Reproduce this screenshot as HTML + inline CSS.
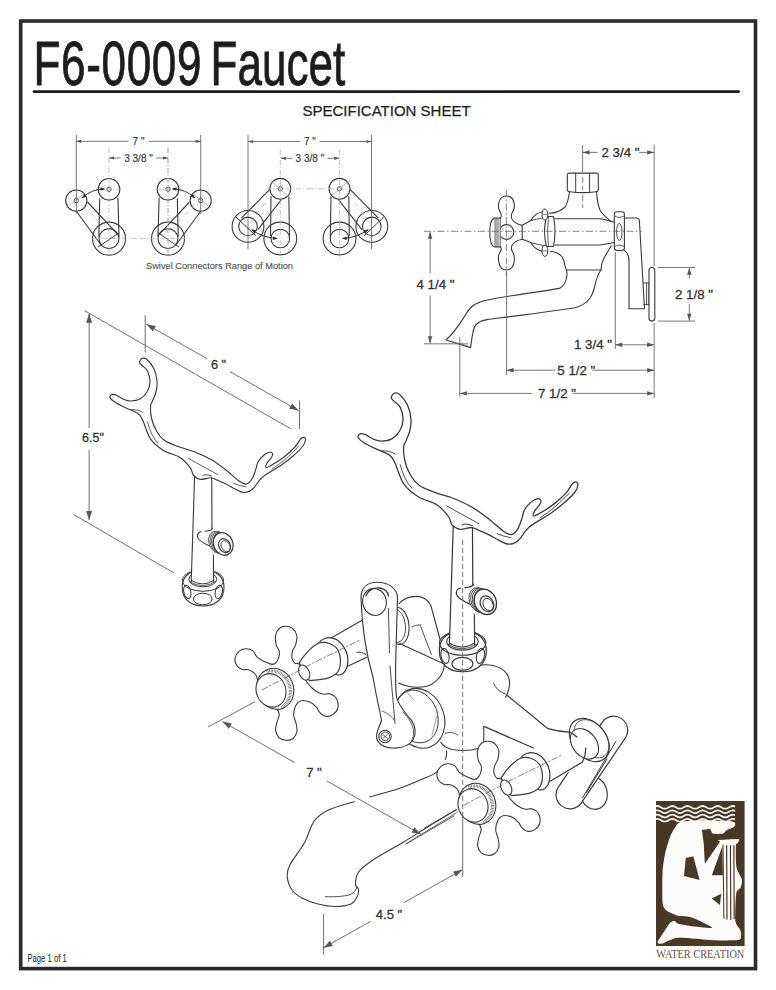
<!DOCTYPE html>
<html><head><meta charset="utf-8">
<style>
html,body{margin:0;padding:0;background:#fff;width:776px;height:990px;overflow:hidden}
svg{display:block;position:absolute;left:0;top:0}
text{font-family:"Liberation Sans",sans-serif}
</style></head>
<body>
<svg width="776" height="990" viewBox="0 0 776 990">

<rect x="20.7" y="21" width="734.8" height="947.6" fill="none" stroke="#2b2b2b" stroke-width="3.6"/>
<g transform="translate(33.5 0) scale(0.7 1)"><text x="0" y="84.6" font-size="63" fill="#1c1c1c" stroke="#1c1c1c" stroke-width="0.8" letter-spacing="0.9">F6-0009</text><text x="253" y="84.6" font-size="63" fill="#1c1c1c" stroke="#1c1c1c" stroke-width="0.8">Faucet</text></g>
<line x1="34" y1="91.6" x2="738.5" y2="91.6" stroke="#1c1c1c" stroke-width="2.8" stroke-linecap="round"/>
<text x="302.5" y="115.8" font-size="15" fill="#1e1e1e" stroke="#1e1e1e" stroke-width="0.25">SPECIFICATION SHEET</text>
<text x="27.5" y="962" font-size="10.5" fill="#222" transform="translate(27.5 0) scale(0.73 1) translate(-27.5 0)">Page 1 of 1</text>

<circle cx="109.0" cy="189.3" r="10.8" fill="none" stroke="#3a3a3a" stroke-width="1.1"/>
<circle cx="109.0" cy="189.3" r="2.2" fill="none" stroke="#3a3a3a" stroke-width="0.9"/>
<circle cx="76.3" cy="200.6" r="10.6" fill="none" stroke="#3a3a3a" stroke-width="1.1"/>
<circle cx="76.3" cy="200.6" r="2.2" fill="none" stroke="#3a3a3a" stroke-width="0.9"/>
<circle cx="109.0" cy="238.6" r="16.5" fill="none" stroke="#3a3a3a" stroke-width="1.1"/>
<circle cx="109.0" cy="238.6" r="10.0" fill="none" stroke="#3a3a3a" stroke-width="1.1"/>
<line x1="99.7" y1="198.5" x2="98.8" y2="236.5" stroke="#3a3a3a" stroke-width="1.1"/>
<line x1="117.9" y1="197.5" x2="119.0" y2="236.5" stroke="#3a3a3a" stroke-width="1.1"/>
<line x1="76.5" y1="211.5" x2="101.5" y2="245.5" stroke="#3a3a3a" stroke-width="1.1"/>
<line x1="87.5" y1="202.0" x2="117.7" y2="234.4" stroke="#3a3a3a" stroke-width="1.1"/>
<line x1="98.0" y1="247.0" x2="118.8" y2="233.0" stroke="#3a3a3a" stroke-width="1.0"/>
<line x1="109.0" y1="148.0" x2="109.0" y2="258.0" stroke="#aaa" stroke-width="0.7" stroke-dasharray="5 2 1 2"/>
<line x1="92.0" y1="238.6" x2="138.5" y2="238.6" stroke="#aaa" stroke-width="0.7" stroke-dasharray="5 2 1 2"/>
<line x1="96.0" y1="189.3" x2="123.0" y2="189.3" stroke="#aaa" stroke-width="0.7" stroke-dasharray="5 2 1 2"/>
<line x1="68.0" y1="190.0" x2="99.0" y2="222.0" stroke="#aaa" stroke-width="0.7" stroke-dasharray="5 2 1 2"/>
<line x1="66.0" y1="208.0" x2="84.0" y2="194.0" stroke="#999" stroke-width="0.7"/>
<path d="M82.5 197.5 Q92 189 104 189" fill="none" stroke="#333" stroke-width="1"/>
<path d="M105.5 189.0L100.5 190.8L100.5 187.2Z" fill="#333"/>
<path d="M81.5 198.5L84.3 194.0L86.5 196.8Z" fill="#333"/>
<g transform="translate(277.0 0) scale(-1 1)"><circle cx="109.0" cy="189.3" r="10.8" fill="none" stroke="#3a3a3a" stroke-width="1.1"/>
<circle cx="109.0" cy="189.3" r="2.2" fill="none" stroke="#3a3a3a" stroke-width="0.9"/>
<circle cx="76.3" cy="200.6" r="10.6" fill="none" stroke="#3a3a3a" stroke-width="1.1"/>
<circle cx="76.3" cy="200.6" r="2.2" fill="none" stroke="#3a3a3a" stroke-width="0.9"/>
<circle cx="109.0" cy="238.6" r="16.5" fill="none" stroke="#3a3a3a" stroke-width="1.1"/>
<circle cx="109.0" cy="238.6" r="10.0" fill="none" stroke="#3a3a3a" stroke-width="1.1"/>
<line x1="99.7" y1="198.5" x2="98.8" y2="236.5" stroke="#3a3a3a" stroke-width="1.1"/>
<line x1="117.9" y1="197.5" x2="119.0" y2="236.5" stroke="#3a3a3a" stroke-width="1.1"/>
<line x1="76.5" y1="211.5" x2="101.5" y2="245.5" stroke="#3a3a3a" stroke-width="1.1"/>
<line x1="87.5" y1="202.0" x2="117.7" y2="234.4" stroke="#3a3a3a" stroke-width="1.1"/>
<line x1="98.0" y1="247.0" x2="118.8" y2="233.0" stroke="#3a3a3a" stroke-width="1.0"/>
<line x1="109.0" y1="148.0" x2="109.0" y2="258.0" stroke="#aaa" stroke-width="0.7" stroke-dasharray="5 2 1 2"/>
<line x1="92.0" y1="238.6" x2="138.5" y2="238.6" stroke="#aaa" stroke-width="0.7" stroke-dasharray="5 2 1 2"/>
<line x1="96.0" y1="189.3" x2="123.0" y2="189.3" stroke="#aaa" stroke-width="0.7" stroke-dasharray="5 2 1 2"/>
<line x1="68.0" y1="190.0" x2="99.0" y2="222.0" stroke="#aaa" stroke-width="0.7" stroke-dasharray="5 2 1 2"/>
<line x1="66.0" y1="208.0" x2="84.0" y2="194.0" stroke="#999" stroke-width="0.7"/>
<path d="M82.5 197.5 Q92 189 104 189" fill="none" stroke="#333" stroke-width="1"/>
<path d="M105.5 189.0L100.5 190.8L100.5 187.2Z" fill="#333"/>
<path d="M81.5 198.5L84.3 194.0L86.5 196.8Z" fill="#333"/></g>
<circle cx="280.3" cy="188.8" r="10.4" fill="none" stroke="#3a3a3a" stroke-width="1.1"/>
<circle cx="280.3" cy="188.8" r="2.2" fill="none" stroke="#3a3a3a" stroke-width="0.9"/>
<circle cx="248.0" cy="226.4" r="15.9" fill="none" stroke="#3a3a3a" stroke-width="1.1"/>
<circle cx="248.0" cy="226.4" r="9.3" fill="none" stroke="#3a3a3a" stroke-width="1.1"/>
<circle cx="280.3" cy="238.5" r="16.4" fill="none" stroke="#3a3a3a" stroke-width="1.1"/>
<circle cx="280.3" cy="238.5" r="9.3" fill="none" stroke="#3a3a3a" stroke-width="1.1"/>
<line x1="271.0" y1="196.3" x2="270.5" y2="236.0" stroke="#3a3a3a" stroke-width="1.1"/>
<line x1="288.8" y1="196.3" x2="289.5" y2="236.0" stroke="#3a3a3a" stroke-width="1.1"/>
<line x1="270.0" y1="189.2" x2="241.4" y2="218.2" stroke="#3a3a3a" stroke-width="1.1"/>
<line x1="281.4" y1="199.6" x2="257.9" y2="229.7" stroke="#3a3a3a" stroke-width="1.1"/>
<line x1="236.0" y1="217.0" x2="256.0" y2="236.0" stroke="#3a3a3a" stroke-width="1.0"/>
<line x1="280.3" y1="150.0" x2="280.3" y2="258.0" stroke="#aaa" stroke-width="0.7" stroke-dasharray="5 2 1 2"/>
<line x1="266.0" y1="188.8" x2="310.0" y2="188.8" stroke="#aaa" stroke-width="0.7" stroke-dasharray="5 2 1 2"/>
<line x1="265.0" y1="203.0" x2="248.0" y2="226.0" stroke="#aaa" stroke-width="0.7" stroke-dasharray="5 2 1 2"/>
<line x1="270.0" y1="180.0" x2="291.0" y2="199.0" stroke="#999" stroke-width="0.7"/>
<path d="M252 230 Q262 237 276 238.5" fill="none" stroke="#333" stroke-width="1"/>
<path d="M278.0 238.6L272.9 240.1L273.1 236.6Z" fill="#333"/>
<path d="M251.0 229.3L256.2 230.3L254.4 233.4Z" fill="#333"/>
<g transform="translate(619.8 0) scale(-1 1)"><circle cx="280.3" cy="188.8" r="10.4" fill="none" stroke="#3a3a3a" stroke-width="1.1"/>
<circle cx="280.3" cy="188.8" r="2.2" fill="none" stroke="#3a3a3a" stroke-width="0.9"/>
<circle cx="248.0" cy="226.4" r="15.9" fill="none" stroke="#3a3a3a" stroke-width="1.1"/>
<circle cx="248.0" cy="226.4" r="9.3" fill="none" stroke="#3a3a3a" stroke-width="1.1"/>
<circle cx="280.3" cy="238.5" r="16.4" fill="none" stroke="#3a3a3a" stroke-width="1.1"/>
<circle cx="280.3" cy="238.5" r="9.3" fill="none" stroke="#3a3a3a" stroke-width="1.1"/>
<line x1="271.0" y1="196.3" x2="270.5" y2="236.0" stroke="#3a3a3a" stroke-width="1.1"/>
<line x1="288.8" y1="196.3" x2="289.5" y2="236.0" stroke="#3a3a3a" stroke-width="1.1"/>
<line x1="270.0" y1="189.2" x2="241.4" y2="218.2" stroke="#3a3a3a" stroke-width="1.1"/>
<line x1="281.4" y1="199.6" x2="257.9" y2="229.7" stroke="#3a3a3a" stroke-width="1.1"/>
<line x1="236.0" y1="217.0" x2="256.0" y2="236.0" stroke="#3a3a3a" stroke-width="1.0"/>
<line x1="280.3" y1="150.0" x2="280.3" y2="258.0" stroke="#aaa" stroke-width="0.7" stroke-dasharray="5 2 1 2"/>
<line x1="266.0" y1="188.8" x2="310.0" y2="188.8" stroke="#aaa" stroke-width="0.7" stroke-dasharray="5 2 1 2"/>
<line x1="265.0" y1="203.0" x2="248.0" y2="226.0" stroke="#aaa" stroke-width="0.7" stroke-dasharray="5 2 1 2"/>
<line x1="270.0" y1="180.0" x2="291.0" y2="199.0" stroke="#999" stroke-width="0.7"/>
<path d="M252 230 Q262 237 276 238.5" fill="none" stroke="#333" stroke-width="1"/>
<path d="M278.0 238.6L272.9 240.1L273.1 236.6Z" fill="#333"/>
<path d="M251.0 229.3L256.2 230.3L254.4 233.4Z" fill="#333"/></g>
<line x1="76.3" y1="135.0" x2="76.3" y2="214.0" stroke="#555" stroke-width="0.8"/>
<line x1="200.7" y1="135.0" x2="200.7" y2="214.0" stroke="#555" stroke-width="0.8"/>
<line x1="76.3" y1="141.3" x2="128.5" y2="141.3" stroke="#555" stroke-width="0.8"/>
<line x1="148.5" y1="141.3" x2="200.7" y2="141.3" stroke="#555" stroke-width="0.8"/>
<path d="M76.3 141.3L81.3 139.7L81.3 142.9Z" fill="#555"/>
<path d="M200.7 141.3L195.7 142.9L195.7 139.7Z" fill="#555"/>
<text x="138.5" y="145.0" font-size="10" fill="#333" stroke="#333" stroke-width="0.15" text-anchor="middle">7 "</text>
<line x1="109.0" y1="158.0" x2="120.8" y2="158.0" stroke="#555" stroke-width="0.8"/>
<line x1="156.2" y1="158.0" x2="168.0" y2="158.0" stroke="#555" stroke-width="0.8"/>
<path d="M109.0 158.0L114.0 156.4L114.0 159.6Z" fill="#555"/>
<path d="M168.0 158.0L163.0 159.6L163.0 156.4Z" fill="#555"/>
<text x="138.5" y="161.8" font-size="10" fill="#333" stroke="#333" stroke-width="0.15" text-anchor="middle">3 3/8 "</text>
<line x1="168.0" y1="148.0" x2="168.0" y2="258.0" stroke="#aaa" stroke-width="0.7" stroke-dasharray="5 2 1 2"/>
<line x1="248.0" y1="135.0" x2="248.0" y2="249.0" stroke="#555" stroke-width="0.8"/>
<line x1="371.5" y1="135.0" x2="371.5" y2="249.0" stroke="#555" stroke-width="0.8"/>
<line x1="248.0" y1="141.5" x2="299.9" y2="141.5" stroke="#555" stroke-width="0.8"/>
<line x1="319.6" y1="141.5" x2="371.5" y2="141.5" stroke="#555" stroke-width="0.8"/>
<path d="M248.0 141.5L253.0 139.9L253.0 143.1Z" fill="#555"/>
<path d="M371.5 141.5L366.5 143.1L366.5 139.9Z" fill="#555"/>
<text x="309.9" y="145.2" font-size="10" fill="#333" stroke="#333" stroke-width="0.15" text-anchor="middle">7 "</text>
<line x1="280.8" y1="158.3" x2="292.5" y2="158.3" stroke="#555" stroke-width="0.8"/>
<line x1="327.6" y1="158.3" x2="339.3" y2="158.3" stroke="#555" stroke-width="0.8"/>
<path d="M280.8 158.3L285.8 156.7L285.8 159.9Z" fill="#555"/>
<path d="M339.3 158.3L334.3 159.9L334.3 156.7Z" fill="#555"/>
<text x="309.9" y="162.1" font-size="10" fill="#333" stroke="#333" stroke-width="0.15" text-anchor="middle">3 3/8 "</text>
<text x="219.5" y="268.5" font-size="9.2" fill="#555" stroke="#555" stroke-width="0.15" text-anchor="middle" textLength="147" lengthAdjust="spacingAndGlyphs">Swivel Connectors Range of Motion</text>
<path d="M566.4 270 C568 276 566 285 559.5 288.4 C540 292 505 296 487.3 300 C476 302.5 470 306 466 314 C461 322 455 332 446 340 L470.6 347.6 C471.5 342 472 334 474.4 327 C477 322 481 320.6 487 319.6 C515 316 555 311 575 307.7 C590 304 593 293.5 594.8 286 C596 280 597 275 601 270" fill="none" stroke="#3a3a3a" stroke-width="1.1" stroke-linejoin="round" stroke-linecap="round"/>
<path d="M451 341.5 L468 346" fill="none" stroke="#777" stroke-width="0.8" stroke-linejoin="round" stroke-linecap="round"/>
<path d="M550.2 251.2 C558 252 562 255 563.5 260 C565 264 565 268 566.4 270 L601 270 C601 265 602 262 603.5 259 C606 254 609 250 611.2 245.8" fill="none" stroke="#3a3a3a" stroke-width="1.1" stroke-linejoin="round" stroke-linecap="round"/>
<path d="M569 173.1 L596.3 173.1 Q598.3 173.1 598.3 175.1 L598.3 189.5 Q598.3 191.7 596 191.7 Q583 193.5 570 191.7 Q567.3 191.7 567.3 189.5 L567.3 175.1 Q567.3 173.1 569 173.1 Z" fill="none" stroke="#3a3a3a" stroke-width="1.1" stroke-linejoin="round" stroke-linecap="round"/>
<path d="M575.7 173.5 L575.7 192 M589.6 173.5 L589.6 192" fill="none" stroke="#3a3a3a" stroke-width="1" stroke-linejoin="round" stroke-linecap="round"/>
<path d="M569.5 192 C568.5 198 568 203 565 207 C561 211 556 213 549.4 213.3" fill="none" stroke="#3a3a3a" stroke-width="1.1" stroke-linejoin="round" stroke-linecap="round"/>
<path d="M596.5 192 C597 198 597.5 205 600.4 211 C603 215 607 218 611.2 221.5" fill="none" stroke="#3a3a3a" stroke-width="1.1" stroke-linejoin="round" stroke-linecap="round"/>
<path d="M554.8 218.8 L600 218.8 C605 219.5 609 221 614.3 222" fill="none" stroke="#3a3a3a" stroke-width="1.1" stroke-linejoin="round" stroke-linecap="round"/>
<path d="M554.8 245 L600 245 C605 244.5 609 243.5 614.3 242.5" fill="none" stroke="#3a3a3a" stroke-width="1.1" stroke-linejoin="round" stroke-linecap="round"/>
<path d="M530.8 220.5 C534 215 539 212 544 211.5 M530.8 242.8 C534 248 539 251 544 252" fill="none" stroke="#3a3a3a" stroke-width="1.1" stroke-linejoin="round" stroke-linecap="round"/>
<path d="M530.8 220.5 L544.7 217.5 M530.8 242.8 L544.7 245.8" fill="none" stroke="#3a3a3a" stroke-width="0.9" stroke-linejoin="round" stroke-linecap="round"/>
<path d="M546.5 216.5 L553.5 216.5 Q556.5 231.5 553.5 246.5 L546.5 246.5 Q542.5 231.5 546.5 216.5 Z" fill="#fff" stroke="#3a3a3a" stroke-width="1.1" stroke-linejoin="round" stroke-linecap="round"/>
<path d="M548.5 217 Q546.5 231.5 548.5 246" fill="none" stroke="#3a3a3a" stroke-width="0.8" stroke-linejoin="round" stroke-linecap="round"/>
<ellipse cx="544.9" cy="214.6" rx="2.9" ry="5.6" fill="#fff" stroke="#3a3a3a" stroke-width="1"/>
<ellipse cx="544.9" cy="250.8" rx="2.9" ry="5.6" fill="#fff" stroke="#3a3a3a" stroke-width="1"/>
<path d="M543 214.6 L547 214.6 M543 250.8 L547 250.8" fill="none" stroke="#3a3a3a" stroke-width="0.7" stroke-linejoin="round" stroke-linecap="round"/>
<path d="M617 211.8 L622 211.8 Q624.4 211.8 624.4 214.5 L624.4 247.8 Q624.4 250.5 622 250.5 L617 250.5 Q614.3 250.5 614.3 247.8 L614.3 214.5 Q614.3 211.8 617 211.8 Z" fill="#fff" stroke="#3a3a3a" stroke-width="1.1" stroke-linejoin="round" stroke-linecap="round"/>
<ellipse cx="619.3" cy="231.9" rx="2.7" ry="8.5" fill="none" stroke="#3a3a3a" stroke-width="0.9"/>
<path d="M614.5 216 Q619 219 624.2 216 M614.5 246.5 Q619 243.5 624.2 246.5" fill="none" stroke="#3a3a3a" stroke-width="0.8" stroke-linejoin="round" stroke-linecap="round"/>
<path d="M624.4 218 L637.2 218 Q639.4 218.5 639.4 221 L644.5 308.8 L629 308.8 L629 262 C629 256 627 252 624.4 250.5" fill="none" stroke="#3a3a3a" stroke-width="1.1" stroke-linejoin="round" stroke-linecap="round"/>
<path d="M643.5 283 L649 283 L649 304.6 L643.8 304.6 M646.6 283 L646.6 304.6" fill="none" stroke="#3a3a3a" stroke-width="0.9" stroke-linejoin="round" stroke-linecap="round"/>
<path d="M649 270.5 Q649 267.5 651.9 267.5 Q654.8 267.5 654.8 270.5 L654.8 318.1 Q654.8 321.1 651.9 321.1 Q649 321.1 649 318.1 Z" fill="#fff" stroke="#3a3a3a" stroke-width="1.1" stroke-linejoin="round" stroke-linecap="round"/>
<path d="M500.6 212.8 C497 208 497.5 196 506.4 196 C515.3 196 515.8 208 512.1 212.8 C511 215 511.3 217.5 512.2 219.5 C514.5 223 518 224.5 522.2 225.3 L522.2 239.2 C518 240 514.5 241.5 512.2 245 C511.3 247 511 249 512.1 251.2 C515.8 256 515.3 270 506.4 270 C497.5 270 497 256 500.6 251.2 C501.5 249 501.3 247.5 500.2 246.9 L500.2 218.1 C501.3 217 501.5 215 500.6 212.8 Z" fill="#fff" stroke="#3a3a3a" stroke-width="1.1" stroke-linejoin="round" stroke-linecap="round"/>
<circle cx="506.4" cy="232" r="7.4" fill="none" stroke="#3a3a3a" stroke-width="1.1"/>
<path d="M522.2 225.3 L530.9 220.5 M522.2 239.2 L530.9 242.6" fill="none" stroke="#3a3a3a" stroke-width="1.1" stroke-linejoin="round" stroke-linecap="round"/>
<path d="M500.2 218.1 L494.4 218.1 C488 220 488.5 245 494.4 246.9 L500.2 246.9" fill="#fff" stroke="#3a3a3a" stroke-width="1.1" stroke-linejoin="round" stroke-linecap="round"/>
<path d="M494.6 219 L494.6 246 M495.5 219 L495.5 246 M496.4 219 L496.4 246 M497.3 219 L497.3 246 M498.2 219 L498.2 246 M499.1 219 L499.1 246 " fill="none" stroke="#555" stroke-width="0.5" stroke-linejoin="round" stroke-linecap="round"/>
<line x1="424.0" y1="231.3" x2="642.0" y2="231.3" stroke="#666" stroke-width="0.8" stroke-dasharray="7 2.5 1.5 2.5"/>
<line x1="506.4" y1="190.0" x2="506.4" y2="276.0" stroke="#666" stroke-width="0.8" stroke-dasharray="7 2.5 1.5 2.5"/>
<line x1="582.7" y1="195.0" x2="582.7" y2="208.0" stroke="#666" stroke-width="0.8" stroke-dasharray="6 3"/>
<line x1="582.7" y1="177.0" x2="582.7" y2="190.0" stroke="#666" stroke-width="0.8" stroke-dasharray="6 3"/>
<line x1="582.6" y1="145.0" x2="582.6" y2="172.0" stroke="#555" stroke-width="0.8"/>
<line x1="654.2" y1="145.0" x2="654.2" y2="266.0" stroke="#555" stroke-width="0.8"/>
<line x1="654.2" y1="323.0" x2="654.2" y2="398.0" stroke="#555" stroke-width="0.8"/>
<line x1="506.6" y1="272.0" x2="506.6" y2="375.0" stroke="#555" stroke-width="0.8"/>
<line x1="459.8" y1="337.0" x2="459.8" y2="397.0" stroke="#555" stroke-width="0.8"/>
<line x1="615.3" y1="252.0" x2="615.3" y2="349.0" stroke="#555" stroke-width="0.8"/>
<line x1="424.0" y1="343.8" x2="468.0" y2="343.8" stroke="#555" stroke-width="0.8"/>
<line x1="658.0" y1="267.5" x2="695.0" y2="267.5" stroke="#555" stroke-width="0.8"/>
<line x1="658.0" y1="321.1" x2="695.0" y2="321.1" stroke="#555" stroke-width="0.8"/>
<line x1="582.6" y1="152.4" x2="597.6" y2="152.4" stroke="#555" stroke-width="0.8"/>
<line x1="639.2" y1="152.4" x2="654.2" y2="152.4" stroke="#555" stroke-width="0.8"/>
<path d="M582.6 152.4L589.6 150.2L589.6 154.6Z" fill="#555"/>
<path d="M654.2 152.4L647.2 154.6L647.2 150.2Z" fill="#555"/>
<text x="620.5" y="156.8" font-size="13.3" fill="#333" stroke="#333" stroke-width="0.3" text-anchor="middle">2 3/4 "</text>
<line x1="430.1" y1="231.8" x2="430.1" y2="273.1" stroke="#555" stroke-width="0.8"/>
<line x1="430.1" y1="295.4" x2="430.1" y2="343.3" stroke="#555" stroke-width="0.8"/>
<path d="M430.1 231.8L432.3 238.8L427.9 238.8Z" fill="#555"/>
<path d="M430.1 343.3L427.9 336.3L432.3 336.3Z" fill="#555"/>
<text x="435.5" y="289.0" font-size="13.3" fill="#333" stroke="#333" stroke-width="0.3" text-anchor="middle">4 1/4 "</text>
<line x1="689.3" y1="267.8" x2="689.3" y2="278.4" stroke="#555" stroke-width="0.8"/>
<line x1="689.3" y1="303.8" x2="689.3" y2="320.8" stroke="#555" stroke-width="0.8"/>
<path d="M689.3 267.8L691.5 274.8L687.1 274.8Z" fill="#555"/>
<path d="M689.3 320.8L687.1 313.8L691.5 313.8Z" fill="#555"/>
<text x="694.0" y="298.6" font-size="13.3" fill="#333" stroke="#333" stroke-width="0.3" text-anchor="middle">2 1/8 "</text>
<line x1="615.3" y1="344.8" x2="654.2" y2="344.8" stroke="#555" stroke-width="0.8"/>
<path d="M615.3 344.8L622.3 342.6L622.3 347.0Z" fill="#555"/>
<path d="M654.2 344.8L647.2 347.0L647.2 342.6Z" fill="#555"/>
<text x="593.0" y="349.3" font-size="13.3" fill="#333" stroke="#333" stroke-width="0.3" text-anchor="middle">1 3/4 "</text>
<line x1="506.6" y1="370.2" x2="555.3" y2="370.2" stroke="#555" stroke-width="0.8"/>
<line x1="592.2" y1="370.2" x2="654.2" y2="370.2" stroke="#555" stroke-width="0.8"/>
<path d="M506.6 370.2L513.6 368.0L513.6 372.4Z" fill="#555"/>
<path d="M654.2 370.2L647.2 372.4L647.2 368.0Z" fill="#555"/>
<text x="576.3" y="374.6" font-size="13.3" fill="#333" stroke="#333" stroke-width="0.3" text-anchor="middle">5 1/2 "</text>
<line x1="459.8" y1="393.4" x2="531.7" y2="393.4" stroke="#555" stroke-width="0.8"/>
<line x1="572.6" y1="393.4" x2="654.2" y2="393.4" stroke="#555" stroke-width="0.8"/>
<path d="M459.8 393.4L466.8 391.2L466.8 395.6Z" fill="#555"/>
<path d="M654.2 393.4L647.2 395.6L647.2 391.2Z" fill="#555"/>
<text x="557.0" y="397.8" font-size="13.3" fill="#333" stroke="#333" stroke-width="0.3" text-anchor="middle">7 1/2 "</text>
<path d="M182.3 588 C181.5 575 192 569.8 203 569.8 C214 569.8 224.5 575 224 588 C224 600 214 606 203 606 C192 606 182.3 600 182.3 588 Z" fill="#fff" stroke="#3a3a3a" stroke-width="1.1"/>
<ellipse cx="203" cy="580.5" rx="20.6" ry="10.8" fill="none" stroke="#3a3a3a" stroke-width="1"/>
<ellipse cx="202.8" cy="579.2" rx="14" ry="7.6" fill="none" stroke="#3a3a3a" stroke-width="1"/>
<ellipse cx="202.8" cy="599" rx="9.3" ry="5.8" fill="none" stroke="#3a3a3a" stroke-width="1"/>
<ellipse cx="187.3" cy="591.9" rx="3.5" ry="6.8" transform="rotate(-12 187.3 591.9)" fill="none" stroke="#3a3a3a" stroke-width="1"/>
<ellipse cx="218.8" cy="591.9" rx="3.5" ry="6.8" transform="rotate(12 218.8 591.9)" fill="none" stroke="#3a3a3a" stroke-width="1"/>
<path d="M194.7 474 L191.2 583 L213.6 583 L211.7 474 Z" fill="#fff" stroke="none"/>
<path d="M194.7 474 L191.2 582 M211.7 474 L212 528.5 M213.4 552.4 L213.6 582" fill="none" stroke="#3a3a3a" stroke-width="1.1" stroke-linejoin="round" stroke-linecap="round"/>
<path d="M191.2 580.5 Q202.5 587.5 213.6 580.5" fill="none" stroke="#3a3a3a" stroke-width="1" stroke-linejoin="round" stroke-linecap="round"/>
<path d="M189.5 581.5 Q202.5 590 215.5 581.5" fill="none" stroke="#3a3a3a" stroke-width="0.8" stroke-linejoin="round" stroke-linecap="round"/>
<path d="M204 531.2 L212.5 528.9 L216 530.7 L214 556 L209.8 546.1 L198 538.9 Z" fill="#fff" stroke="none"/>
<path d="M212 528 L212.5 528.9 C211 530.5 208 531.2 205 531.2 M201 531.6 C198.5 532 197 534 197.5 537 C198 540 204 543.5 209.8 546.1" fill="none" stroke="#3a3a3a" stroke-width="1.1" stroke-linejoin="round" stroke-linecap="round"/>
<ellipse cx="217.6" cy="542.3" rx="8.6" ry="11.4" transform="rotate(-22 217.6 542.3)" fill="#fff" stroke="#3a3a3a" stroke-width="0.75"/>
<ellipse cx="219.1" cy="542.7" rx="8.6" ry="11.4" transform="rotate(-22 219.1 542.7)" fill="#fff" stroke="#3a3a3a" stroke-width="0.75"/>
<ellipse cx="220.6" cy="543.1" rx="8.6" ry="11.4" transform="rotate(-22 220.6 543.1)" fill="#fff" stroke="#3a3a3a" stroke-width="0.75"/>
<ellipse cx="222.1" cy="543.5" rx="8.6" ry="11.4" transform="rotate(-22 222.1 543.5)" fill="#fff" stroke="#3a3a3a" stroke-width="0.75"/>
<ellipse cx="223.6" cy="543.9" rx="8.6" ry="11.4" transform="rotate(-22 223.6 543.9)" fill="#fff" stroke="#3a3a3a" stroke-width="0.75"/>
<ellipse cx="223.2" cy="543.9" rx="9.6" ry="11.6" transform="rotate(-25 223.2 543.9)" fill="#fff" stroke="#3a3a3a" stroke-width="1.2"/>
<ellipse cx="224.6" cy="545.6" rx="5.7" ry="7.3" transform="rotate(-28 224.6 545.6)" fill="none" stroke="#3a3a3a" stroke-width="1.1"/>
<ellipse cx="225.6" cy="546.2" rx="4.2" ry="5.8" transform="rotate(-28 225.6 546.2)" fill="none" stroke="#3a3a3a" stroke-width="0.8"/>
<path d="M139.5 362.0C139.7 360.9 141.2 358.7 142.5 358.3C143.8 357.9 145.1 357.7 147.0 359.5C148.9 361.3 152.3 365.4 154.0 369.0C155.7 372.6 156.7 377.2 157.0 381.0C157.3 384.8 156.8 388.7 156.0 392.0C155.2 395.3 153.4 398.7 152.5 401.0C151.6 403.3 150.8 403.2 150.6 406.0C150.4 408.8 150.6 414.0 151.5 418.0C152.4 422.0 153.9 426.3 156.0 430.0C158.1 433.7 160.3 437.2 164.0 440.0C167.7 442.8 172.8 444.5 178.0 446.5C183.2 448.5 189.5 449.8 195.0 452.0C200.5 454.2 205.8 456.5 211.0 459.5C216.2 462.5 221.2 466.3 226.0 470.0C230.8 473.7 236.4 479.2 239.8 481.5C243.2 483.8 244.5 484.4 246.5 484.0C248.5 483.6 250.5 481.3 252.0 479.0C253.5 476.7 254.6 472.8 255.6 470.0C256.6 467.2 256.6 464.5 258.0 462.0C259.4 459.5 262.2 456.6 264.0 455.0C265.8 453.4 267.6 452.6 269.0 452.3C270.4 452.1 272.1 452.6 272.5 453.5C272.9 454.4 272.4 455.9 271.5 457.5C270.6 459.1 267.9 461.3 267.0 463.0C266.1 464.7 265.3 467.1 266.0 467.5C266.7 467.9 268.0 467.2 271.0 465.5C274.0 463.8 280.0 460.1 284.0 457.0C288.0 453.9 292.3 449.9 295.0 447.0C297.7 444.1 298.9 440.9 300.3 439.3C301.7 437.7 302.6 437.3 303.5 437.3C304.4 437.3 305.6 438.1 305.5 439.5C305.4 440.9 305.1 443.2 303.0 446.0C300.9 448.8 296.8 452.7 293.0 456.0C289.2 459.3 285.1 462.5 280.0 466.0C274.9 469.5 267.0 473.3 262.4 477.2C257.8 481.1 255.3 486.9 252.2 489.5C249.1 492.1 246.8 492.7 243.9 492.6C241.0 492.5 237.9 490.4 235.0 489.0C232.1 487.6 229.2 485.7 226.4 484.3C223.6 482.9 220.6 481.6 218.0 480.5C215.4 479.4 213.9 478.0 211.0 477.8C208.1 477.6 203.5 479.8 200.6 479.4C197.7 479.0 195.3 477.4 193.6 475.5C191.9 473.6 192.6 470.8 190.3 467.8C188.0 464.8 184.5 460.4 180.0 457.5C175.5 454.6 168.4 453.5 163.5 450.4C158.6 447.3 154.1 444.2 150.6 439.1C147.1 434.0 144.7 424.0 142.5 419.7C140.3 415.4 140.5 415.2 137.6 413.2C134.7 411.2 128.9 409.4 125.0 407.5C121.1 405.6 116.5 403.2 114.0 401.5C111.5 399.8 110.3 398.7 110.0 397.5C109.7 396.3 110.8 394.8 112.0 394.5C113.2 394.2 115.0 394.7 117.0 395.5C119.0 396.3 121.7 398.6 124.0 399.5C126.3 400.4 128.3 401.1 131.0 401.0C133.7 400.9 137.3 400.5 140.0 399.0C142.7 397.5 145.3 394.8 147.0 392.0C148.7 389.2 149.9 385.5 150.0 382.0C150.1 378.5 148.9 373.8 147.5 371.0C146.1 368.2 142.8 366.5 141.5 365.0C140.2 363.5 139.3 363.1 139.5 362.0Z" fill="#fff" stroke="#3a3a3a" stroke-width="1.15" stroke-linejoin="round" stroke-linecap="round"/>
<path d="M131 409.5 Q139 409.5 143 412.5 M147.5 422 Q151 436 158 443 M188.8 458.6 L217.6 474.5 M233.6 483.3 Q240 486 246 486.9 M272 469 Q285 461 298 447" fill="none" stroke="#3a3a3a" stroke-width="0.8" stroke-linejoin="round" stroke-linecap="round"/>
<path d="M202.7 475.6 Q205 473.5 211.4 476" fill="none" stroke="#3a3a3a" stroke-width="0.9" stroke-linejoin="round" stroke-linecap="round"/>
<line x1="84.3" y1="310.5" x2="291.2" y2="429.0" stroke="#555" stroke-width="0.85"/>
<line x1="73.4" y1="514.4" x2="174.0" y2="573.0" stroke="#555" stroke-width="0.85"/>
<line x1="89.1" y1="313.7" x2="89.1" y2="428.0" stroke="#555" stroke-width="0.85"/>
<line x1="89.1" y1="449.9" x2="89.1" y2="520.0" stroke="#555" stroke-width="0.85"/>
<path d="M89.1 313.7L92.1 322.7L86.1 322.7Z" fill="#555"/>
<path d="M89.1 520.0L86.1 511.0L92.1 511.0Z" fill="#555"/>
<text x="93.0" y="442.3" font-size="12.5" fill="#333" stroke="#333" stroke-width="0.3" text-anchor="middle">6.5"</text>
<line x1="145.2" y1="315.4" x2="145.2" y2="352.6" stroke="#555" stroke-width="0.85"/>
<line x1="299.5" y1="400.5" x2="299.5" y2="429.0" stroke="#555" stroke-width="0.85"/>
<line x1="146.5" y1="324.3" x2="207.3" y2="358.8" stroke="#555" stroke-width="0.85"/>
<line x1="230.1" y1="371.7" x2="298.5" y2="410.5" stroke="#555" stroke-width="0.85"/>
<path d="M146.5 324.3L155.8 326.1L152.8 331.3Z" fill="#555"/>
<path d="M298.5 410.5L289.2 408.7L292.2 403.5Z" fill="#555"/>
<text x="218.5" y="368.5" font-size="12.5" fill="#333" stroke="#333" stroke-width="0.3" text-anchor="middle">6 "</text>
<ellipse cx="593.5" cy="792.8" rx="13.5" ry="16.7" transform="rotate(-15 593.5 792.8)" fill="#fff" stroke="#3a3a3a" stroke-width="1.2"/>
<path d="M583 800 C588 790 592 785 596 781" fill="none" stroke="#3a3a3a" stroke-width="0.9" stroke-linejoin="round" stroke-linecap="round"/>
<path d="M581.2 803.2L625.7 737.4A14 14 0 0 0 602.5 721.8L558.0 787.6A14 14 0 0 0 581.2 803.2Z" fill="#fff" stroke="#3a3a3a" stroke-width="1.2" stroke-linejoin="round" stroke-linecap="round"/>
<path d="M616 741.2 L582.5 797.9 M607 759 L586.5 792.5" fill="none" stroke="#3a3a3a" stroke-width="1" stroke-linejoin="round" stroke-linecap="round"/>
<path d="M505.5 694 L548 728.7 L571 732 L590 762 L550 781 L533.5 748 L484 726.4 Z" fill="#fff"/>
<ellipse cx="589.3" cy="740.0" rx="17.0" ry="24.0" transform="rotate(-38 589.3 740.0)" fill="#fff" stroke="#3a3a3a" stroke-width="1.2"/>
<ellipse cx="591.5" cy="738.8" rx="14.5" ry="21.5" transform="rotate(-38 591.5 738.8)" fill="none" stroke="#3a3a3a" stroke-width="0.8"/>
<ellipse cx="584.5" cy="743.8" rx="12.0" ry="17.0" transform="rotate(-38 584.5 743.8)" fill="#fff" stroke="#3a3a3a" stroke-width="1.1"/>
<path d="M505.5 694 L548 728.7 C556 731 563 732 569.6 732.2 C572 733 574 735 577 737" fill="none" stroke="#3a3a3a" stroke-width="1.2" stroke-linejoin="round" stroke-linecap="round"/>
<path d="M484 726.4 L533.5 748" fill="none" stroke="#3a3a3a" stroke-width="1.2" stroke-linejoin="round" stroke-linecap="round"/>
<path d="M550.3 781.2 L582.5 761.9 C585 757 586 752 585.5 748" fill="none" stroke="#3a3a3a" stroke-width="1.2" stroke-linejoin="round" stroke-linecap="round"/>
<path d="M399.7 643.5 L440 640 L480 660 L510 679.5 L507 696 L484 726.4 L483.8 745 L441 742 L430 690 Z" fill="#fff"/>
<path d="M480.2 665.1 C488 664 494 665 500 668 C508 672 511 680 509 688 C508 692 507.5 695 505.5 697" fill="none" stroke="#3a3a3a" stroke-width="1.1" stroke-linejoin="round" stroke-linecap="round"/>
<path d="M493.7 683.1 C495 688 500 692 505.5 694" fill="none" stroke="#3a3a3a" stroke-width="1" stroke-linejoin="round" stroke-linecap="round"/>
<path d="M399.7 643.5 L444.6 664.3 C444 672 440 679 432 684 C425 688 412 689 398.6 683" fill="none" stroke="#3a3a3a" stroke-width="1.1" stroke-linejoin="round" stroke-linecap="round"/>
<path d="M483.8 726.4 L483.8 743" fill="none" stroke="#3a3a3a" stroke-width="1.1" stroke-linejoin="round" stroke-linecap="round"/>
<path d="M399 603.6 C404 598 412 596 418.3 596.4 C424 597 428 600 431 606 L440.2 640" fill="none" stroke="#3a3a3a" stroke-width="1.1" stroke-linejoin="round" stroke-linecap="round"/>
<ellipse cx="398.5" cy="626.0" rx="10.5" ry="18.5" transform="rotate(-5 398.5 626.0)" fill="none" stroke="#3a3a3a" stroke-width="1.1"/>
<ellipse cx="396.5" cy="626.0" rx="9.0" ry="16.5" transform="rotate(-5 396.5 626.0)" fill="none" stroke="#3a3a3a" stroke-width="0.9"/>
<path d="M411.7 627.1 C414 625.5 417 625 420.5 624.9 M420.5 626 L431.4 654.5" fill="none" stroke="#3a3a3a" stroke-width="0.9" stroke-linejoin="round" stroke-linecap="round"/>
<path d="M445.1 759.4C443.7 761.5 440.8 768.7 436.6 772.1C432.4 775.5 426.5 777.2 420.0 780.0C413.5 782.8 406.1 786.1 397.5 789.0C388.9 791.9 375.0 795.5 368.1 797.5C361.2 799.5 362.4 799.2 355.9 801.2C349.4 803.2 335.9 806.5 329.0 809.8C322.1 813.1 318.4 815.3 314.3 820.8C310.2 826.3 308.6 835.4 304.5 842.8C300.4 850.1 292.7 859.2 289.8 864.9C286.9 870.6 286.9 872.9 287.3 877.1C287.7 881.3 289.6 886.5 292.0 890.0C294.4 893.5 297.7 895.7 302.0 898.0C306.3 900.3 312.5 902.6 318.0 904.0C323.5 905.4 329.5 906.5 335.0 906.5C340.5 906.5 347.2 905.8 351.0 904.0C354.8 902.2 356.3 898.5 357.5 896.0C358.7 893.5 358.7 890.9 358.4 889.0C358.1 887.1 355.5 887.3 355.5 884.5C355.5 881.7 355.5 876.3 358.4 872.2C361.3 868.1 365.7 864.9 373.0 860.0C380.3 855.1 392.9 848.5 402.4 842.8C411.9 837.0 421.0 831.0 430.0 825.5C439.0 820.0 451.9 812.4 456.3 809.8 L470 800 L480 760 L446 752 Z" fill="#fff" stroke="none" stroke-width="0" stroke-linejoin="round" stroke-linecap="round"/>
<path d="M445.1 759.4C443.7 761.5 440.8 768.7 436.6 772.1C432.4 775.5 426.5 777.2 420.0 780.0C413.5 782.8 406.1 786.1 397.5 789.0C388.9 791.9 375.0 795.5 368.1 797.5C361.2 799.5 362.4 799.2 355.9 801.2C349.4 803.2 335.9 806.5 329.0 809.8C322.1 813.1 318.4 815.3 314.3 820.8C310.2 826.3 308.6 835.4 304.5 842.8C300.4 850.1 292.7 859.2 289.8 864.9C286.9 870.6 286.9 872.9 287.3 877.1C287.7 881.3 289.6 886.5 292.0 890.0C294.4 893.5 297.7 895.7 302.0 898.0C306.3 900.3 312.5 902.6 318.0 904.0C323.5 905.4 329.5 906.5 335.0 906.5C340.5 906.5 347.2 905.8 351.0 904.0C354.8 902.2 356.3 898.5 357.5 896.0C358.7 893.5 358.7 890.9 358.4 889.0C358.1 887.1 355.5 887.3 355.5 884.5C355.5 881.7 355.5 876.3 358.4 872.2C361.3 868.1 365.7 864.9 373.0 860.0C380.3 855.1 392.9 848.5 402.4 842.8C411.9 837.0 421.0 831.0 430.0 825.5C439.0 820.0 451.9 812.4 456.3 809.8" fill="none" stroke="#3a3a3a" stroke-width="1.1" stroke-linejoin="round" stroke-linecap="round"/>
<path d="M325.3 896.7 C335 897 345 896.5 351 894.3 C354 892.5 356 890 357.1 887" fill="none" stroke="#3a3a3a" stroke-width="0.9" stroke-linejoin="round" stroke-linecap="round"/>
<path d="M406.1 844 L453.9 815.9 M424.5 828.1 L456.3 809.8" fill="none" stroke="#3a3a3a" stroke-width="0.9" stroke-linejoin="round" stroke-linecap="round"/>
<path d="M354.5 801.6 L369.5 797.2" stroke="#fff" stroke-width="3.5"/>
<path d="M441 742.4 L446.5 748 L469 751 L486 746 L486 770 L440 770 Z" fill="#fff"/>
<path d="M440.9 742.4 C443 746 446 748 452 749.5 C460 751 470 751 480 748" fill="none" stroke="#3a3a3a" stroke-width="1.1" stroke-linejoin="round" stroke-linecap="round"/>
<path d="M446.5 750.9 C447 754 446 759 445.1 759.4" fill="none" stroke="#3a3a3a" stroke-width="1.1" stroke-linejoin="round" stroke-linecap="round"/>
<path d="M445.1 733.9 C448 731.5 453 731.5 457.9 735.3" fill="none" stroke="#3a3a3a" stroke-width="0.9" stroke-linejoin="round" stroke-linecap="round"/>
<path d="M332.9 638 L363.5 619.4 L365.7 655.6 L344.9 666.5 Z" fill="#fff"/>
<path d="M331.1 637.9 L363.5 619.4 M347.6 666.2 L367.2 657" fill="none" stroke="#3a3a3a" stroke-width="1.1" stroke-linejoin="round" stroke-linecap="round"/>
<path d="M356.9 652.3 C360 651.5 363.5 652.5 366.1 654.9" fill="none" stroke="#3a3a3a" stroke-width="1" stroke-linejoin="round" stroke-linecap="round"/>
<ellipse cx="419.6" cy="718.3" rx="24.5" ry="30.5" transform="rotate(-20 419.6 718.3)" fill="#fff" stroke="#3a3a3a" stroke-width="1.1"/>
<ellipse cx="416.5" cy="716.5" rx="21.0" ry="27.0" transform="rotate(-20 416.5 716.5)" fill="none" stroke="#3a3a3a" stroke-width="0.9"/>
<path d="M405 690 L414 700 M438 712 L432 735" fill="none" stroke="#777" stroke-width="0.7" stroke-linejoin="round" stroke-linecap="round"/>
<path d="M361 598 C361 586 369 582.2 377 582.2 C388 582.2 397.5 588 397.5 598 L396 650 C395.5 668 395.5 686 396.3 696 C398 706 406 713 411.6 720.6 C415.5 726 416.5 734 413 740 C409 746 401 748.5 392 748 C383 747.5 376.5 743 376.5 736 C376.5 731 380 726 381.5 720 C380 712 377 700 373 677.5 C368 660 362 630 361 598 Z" fill="#fff" stroke="#3a3a3a" stroke-width="1.15" stroke-linejoin="round" stroke-linecap="round"/>
<path d="M403 712 C409 718 413 725 413.5 731 C413.8 735 413 738 411 741" fill="none" stroke="#3a3a3a" stroke-width="0.8" stroke-linejoin="round" stroke-linecap="round"/>
<ellipse cx="374.5" cy="601.9" rx="11.8" ry="13.6" transform="rotate(-12 374.5 601.9)" fill="none" stroke="#3a3a3a" stroke-width="1.1"/>
<path d="M366 596 C368 590 374 587 380 588 C385 589 388 592 388.5 596" fill="none" stroke="#3a3a3a" stroke-width="1.3" stroke-linejoin="round" stroke-linecap="round"/>
<path d="M388.4 608.4 L389.5 652.6 M390 666 L395 723.6" fill="none" stroke="#3a3a3a" stroke-width="0.9" stroke-linejoin="round" stroke-linecap="round"/>
<path d="M382 711 C387 713 392 716 394 720" fill="none" stroke="#3a3a3a" stroke-width="0.8" stroke-linejoin="round" stroke-linecap="round"/>
<circle cx="385" cy="736.5" r="6.2" fill="#fff" stroke="#3a3a3a" stroke-width="1.1"/>
<circle cx="385.3" cy="736.3" r="4.3" fill="none" stroke="#3a3a3a" stroke-width="0.9"/>
<path d="M383 734.5 L387.5 738.5 M387.5 734.3 L383 738.5" fill="none" stroke="#3a3a3a" stroke-width="0.8" stroke-linejoin="round" stroke-linecap="round"/>
<g transform="translate(202 115)"><path d="M318.7 643 C321 639 328 636.5 333.1 638.4 C340 640 346 648 347.6 656 C348.5 663 347 670 343 673.5 C341 675 339 675.5 336.2 674.5 Z" fill="#fff" stroke="#3a3a3a" stroke-width="1.2" stroke-linejoin="round" stroke-linecap="round"/>
<path d="M299.1 663.1 C304 655 311 647 318.7 643 C326 641 334 644 338 650 C341 656 341.5 665 338.5 671 C336 675 330 678 325.9 678.6 C318 680 312 680.5 309.4 680.7 Z" fill="#fff" stroke="#3a3a3a" stroke-width="1.2" stroke-linejoin="round" stroke-linecap="round"/>
<path d="M279.2 650.9C278.7 648.9 276.7 647.3 276.1 644.7C275.5 642.1 275.1 638.2 275.6 635.5C276.1 632.8 277.5 630.0 279.2 628.5C280.9 627.0 283.5 626.2 285.7 626.2C287.9 626.2 290.8 627.0 292.6 628.5C294.5 630.0 296.3 632.8 296.8 635.5C297.3 638.2 296.4 642.1 295.7 644.7C295.0 647.3 293.2 648.7 292.6 650.9C292.0 653.1 291.5 655.8 291.9 657.9C292.3 660.0 293.6 662.1 294.9 663.3C296.2 664.4 297.8 662.0 299.6 664.8C301.4 667.6 303.7 676.4 305.8 680.3C307.9 684.2 309.8 685.9 312.0 688.0C314.2 690.1 316.8 691.7 318.9 692.7C320.9 693.7 322.4 694.0 324.3 694.2C326.2 694.4 328.4 693.1 330.5 693.9C332.6 694.7 335.5 696.5 336.7 698.9C337.9 701.3 338.4 705.5 337.8 708.1C337.2 710.7 334.9 713.2 332.8 714.6C330.7 716.0 327.3 716.6 325.1 716.2C322.9 715.8 320.8 713.5 319.4 712.0C318.0 710.5 318.1 709.0 316.6 707.4C315.1 705.8 313.0 703.4 310.4 702.3C307.8 701.2 303.6 700.1 301.1 700.7C298.7 701.3 296.9 703.4 295.7 705.8C294.5 708.2 293.6 712.1 293.7 715.1C293.8 718.1 295.7 721.1 296.2 723.9C296.7 726.7 297.4 729.6 296.8 732.1C296.2 734.6 294.4 737.4 292.6 738.8C290.8 740.2 288.2 740.5 286.0 740.3C283.8 740.1 280.9 739.4 279.2 737.8C277.5 736.2 276.0 733.2 275.6 730.6C275.2 728.0 276.3 725.1 276.9 722.4C277.5 719.7 279.3 717.0 279.2 714.6C279.1 712.2 279.4 711.8 276.4 708.1C273.3 704.5 264.2 698.1 260.9 692.7C257.5 687.3 258.4 679.5 256.3 675.7C254.2 671.9 251.0 670.8 248.6 669.8C246.2 668.8 244.1 670.3 242.1 669.5C240.1 668.7 237.7 667.1 236.5 665.2C235.3 663.3 234.7 660.2 235.1 657.9C235.5 655.6 237.3 652.9 239.0 651.4C240.7 649.9 243.2 648.9 245.5 648.8C247.8 648.7 251.0 649.5 252.9 650.9C254.8 652.3 255.1 655.3 257.1 657.1C259.1 658.9 262.3 660.6 264.8 661.8C267.3 663.0 270.2 664.3 272.1 664.4C274.0 664.5 275.3 663.4 276.4 662.1C277.5 660.8 278.4 658.7 278.9 656.8C279.4 654.9 279.7 652.9 279.2 650.9Z" fill="#fff" stroke="#3a3a3a" stroke-width="1.1" stroke-linejoin="round" stroke-linecap="round"/>
<ellipse cx="304.2" cy="672.6" rx="5.0" ry="8.0" transform="rotate(-25 304.2 672.6)" fill="#fff" stroke="#3a3a3a" stroke-width="1.1"/>
<ellipse cx="275.2" cy="688.8" rx="18.2" ry="20.9" transform="rotate(-22 275.2 688.8)" fill="#fff" stroke="#3a3a3a" stroke-width="1.1"/>
<g transform="rotate(-22 273.6 689.5)"><path d="M273.6 670.5 A16.4 19 0 0 1 273.6 708.5" fill="none" stroke="#666" stroke-width="3.2" stroke-dasharray="0.7 0.8"/></g>
<ellipse cx="271.0" cy="690.4" rx="14.7" ry="17.0" transform="rotate(-22 271.0 690.4)" fill="#fff" stroke="#3a3a3a" stroke-width="1.1"/>
<path d="M262 690 L300 670 M305 667 L360 640" fill="none" stroke="#666" stroke-width="0.8" stroke-linejoin="round" stroke-linecap="round" stroke-dasharray="6 2.5 1.5 2.5"/></g>
<path d="M318.7 643 C321 639 328 636.5 333.1 638.4 C340 640 346 648 347.6 656 C348.5 663 347 670 343 673.5 C341 675 339 675.5 336.2 674.5 Z" fill="#fff" stroke="#3a3a3a" stroke-width="1.2" stroke-linejoin="round" stroke-linecap="round"/>
<path d="M299.1 663.1 C304 655 311 647 318.7 643 C326 641 334 644 338 650 C341 656 341.5 665 338.5 671 C336 675 330 678 325.9 678.6 C318 680 312 680.5 309.4 680.7 Z" fill="#fff" stroke="#3a3a3a" stroke-width="1.2" stroke-linejoin="round" stroke-linecap="round"/>
<path d="M279.2 650.9C278.7 648.9 276.7 647.3 276.1 644.7C275.5 642.1 275.1 638.2 275.6 635.5C276.1 632.8 277.5 630.0 279.2 628.5C280.9 627.0 283.5 626.2 285.7 626.2C287.9 626.2 290.8 627.0 292.6 628.5C294.5 630.0 296.3 632.8 296.8 635.5C297.3 638.2 296.4 642.1 295.7 644.7C295.0 647.3 293.2 648.7 292.6 650.9C292.0 653.1 291.5 655.8 291.9 657.9C292.3 660.0 293.6 662.1 294.9 663.3C296.2 664.4 297.8 662.0 299.6 664.8C301.4 667.6 303.7 676.4 305.8 680.3C307.9 684.2 309.8 685.9 312.0 688.0C314.2 690.1 316.8 691.7 318.9 692.7C320.9 693.7 322.4 694.0 324.3 694.2C326.2 694.4 328.4 693.1 330.5 693.9C332.6 694.7 335.5 696.5 336.7 698.9C337.9 701.3 338.4 705.5 337.8 708.1C337.2 710.7 334.9 713.2 332.8 714.6C330.7 716.0 327.3 716.6 325.1 716.2C322.9 715.8 320.8 713.5 319.4 712.0C318.0 710.5 318.1 709.0 316.6 707.4C315.1 705.8 313.0 703.4 310.4 702.3C307.8 701.2 303.6 700.1 301.1 700.7C298.7 701.3 296.9 703.4 295.7 705.8C294.5 708.2 293.6 712.1 293.7 715.1C293.8 718.1 295.7 721.1 296.2 723.9C296.7 726.7 297.4 729.6 296.8 732.1C296.2 734.6 294.4 737.4 292.6 738.8C290.8 740.2 288.2 740.5 286.0 740.3C283.8 740.1 280.9 739.4 279.2 737.8C277.5 736.2 276.0 733.2 275.6 730.6C275.2 728.0 276.3 725.1 276.9 722.4C277.5 719.7 279.3 717.0 279.2 714.6C279.1 712.2 279.4 711.8 276.4 708.1C273.3 704.5 264.2 698.1 260.9 692.7C257.5 687.3 258.4 679.5 256.3 675.7C254.2 671.9 251.0 670.8 248.6 669.8C246.2 668.8 244.1 670.3 242.1 669.5C240.1 668.7 237.7 667.1 236.5 665.2C235.3 663.3 234.7 660.2 235.1 657.9C235.5 655.6 237.3 652.9 239.0 651.4C240.7 649.9 243.2 648.9 245.5 648.8C247.8 648.7 251.0 649.5 252.9 650.9C254.8 652.3 255.1 655.3 257.1 657.1C259.1 658.9 262.3 660.6 264.8 661.8C267.3 663.0 270.2 664.3 272.1 664.4C274.0 664.5 275.3 663.4 276.4 662.1C277.5 660.8 278.4 658.7 278.9 656.8C279.4 654.9 279.7 652.9 279.2 650.9Z" fill="#fff" stroke="#3a3a3a" stroke-width="1.1" stroke-linejoin="round" stroke-linecap="round"/>
<ellipse cx="304.2" cy="672.6" rx="5.0" ry="8.0" transform="rotate(-25 304.2 672.6)" fill="#fff" stroke="#3a3a3a" stroke-width="1.1"/>
<ellipse cx="275.2" cy="688.8" rx="18.2" ry="20.9" transform="rotate(-22 275.2 688.8)" fill="#fff" stroke="#3a3a3a" stroke-width="1.1"/>
<g transform="rotate(-22 273.6 689.5)"><path d="M273.6 670.5 A16.4 19 0 0 1 273.6 708.5" fill="none" stroke="#666" stroke-width="3.2" stroke-dasharray="0.7 0.8"/></g>
<ellipse cx="271.0" cy="690.4" rx="14.7" ry="17.0" transform="rotate(-22 271.0 690.4)" fill="#fff" stroke="#3a3a3a" stroke-width="1.1"/>
<path d="M262 690 L300 670 M305 667 L360 640" fill="none" stroke="#666" stroke-width="0.8" stroke-linejoin="round" stroke-linecap="round" stroke-dasharray="6 2.5 1.5 2.5"/>
<g transform="translate(394.6 395) scale(1.125) translate(-142.5 -360)"><path d="M182.3 588 C181.5 575 192 569.8 203 569.8 C214 569.8 224.5 575 224 588 C224 600 214 606 203 606 C192 606 182.3 600 182.3 588 Z" fill="#fff" stroke="#3a3a3a" stroke-width="1.1"/>
<ellipse cx="203" cy="580.5" rx="20.6" ry="10.8" fill="none" stroke="#3a3a3a" stroke-width="1"/>
<ellipse cx="202.8" cy="579.2" rx="14" ry="7.6" fill="none" stroke="#3a3a3a" stroke-width="1"/>
<ellipse cx="202.8" cy="599" rx="9.3" ry="5.8" fill="none" stroke="#3a3a3a" stroke-width="1"/>
<ellipse cx="187.3" cy="591.9" rx="3.5" ry="6.8" transform="rotate(-12 187.3 591.9)" fill="none" stroke="#3a3a3a" stroke-width="1"/>
<ellipse cx="218.8" cy="591.9" rx="3.5" ry="6.8" transform="rotate(12 218.8 591.9)" fill="none" stroke="#3a3a3a" stroke-width="1"/>
<path d="M194.7 474 L191.2 583 L213.6 583 L211.7 474 Z" fill="#fff" stroke="none"/>
<path d="M194.7 474 L191.2 582 M211.7 474 L212 528.5 M213.4 552.4 L213.6 582" fill="none" stroke="#3a3a3a" stroke-width="1.1" stroke-linejoin="round" stroke-linecap="round"/>
<path d="M191.2 580.5 Q202.5 587.5 213.6 580.5" fill="none" stroke="#3a3a3a" stroke-width="1" stroke-linejoin="round" stroke-linecap="round"/>
<path d="M189.5 581.5 Q202.5 590 215.5 581.5" fill="none" stroke="#3a3a3a" stroke-width="0.8" stroke-linejoin="round" stroke-linecap="round"/>
<path d="M204 531.2 L212.5 528.9 L216 530.7 L214 556 L209.8 546.1 L198 538.9 Z" fill="#fff" stroke="none"/>
<path d="M212 528 L212.5 528.9 C211 530.5 208 531.2 205 531.2 M201 531.6 C198.5 532 197 534 197.5 537 C198 540 204 543.5 209.8 546.1" fill="none" stroke="#3a3a3a" stroke-width="1.1" stroke-linejoin="round" stroke-linecap="round"/>
<ellipse cx="217.6" cy="542.3" rx="8.6" ry="11.4" transform="rotate(-22 217.6 542.3)" fill="#fff" stroke="#3a3a3a" stroke-width="0.75"/>
<ellipse cx="219.1" cy="542.7" rx="8.6" ry="11.4" transform="rotate(-22 219.1 542.7)" fill="#fff" stroke="#3a3a3a" stroke-width="0.75"/>
<ellipse cx="220.6" cy="543.1" rx="8.6" ry="11.4" transform="rotate(-22 220.6 543.1)" fill="#fff" stroke="#3a3a3a" stroke-width="0.75"/>
<ellipse cx="222.1" cy="543.5" rx="8.6" ry="11.4" transform="rotate(-22 222.1 543.5)" fill="#fff" stroke="#3a3a3a" stroke-width="0.75"/>
<ellipse cx="223.6" cy="543.9" rx="8.6" ry="11.4" transform="rotate(-22 223.6 543.9)" fill="#fff" stroke="#3a3a3a" stroke-width="0.75"/>
<ellipse cx="223.2" cy="543.9" rx="9.6" ry="11.6" transform="rotate(-25 223.2 543.9)" fill="#fff" stroke="#3a3a3a" stroke-width="1.2"/>
<ellipse cx="224.6" cy="545.6" rx="5.7" ry="7.3" transform="rotate(-28 224.6 545.6)" fill="none" stroke="#3a3a3a" stroke-width="1.1"/>
<ellipse cx="225.6" cy="546.2" rx="4.2" ry="5.8" transform="rotate(-28 225.6 546.2)" fill="none" stroke="#3a3a3a" stroke-width="0.8"/>
<path d="M139.5 362.0C139.7 360.9 141.2 358.7 142.5 358.3C143.8 357.9 145.1 357.7 147.0 359.5C148.9 361.3 152.3 365.4 154.0 369.0C155.7 372.6 156.7 377.2 157.0 381.0C157.3 384.8 156.8 388.7 156.0 392.0C155.2 395.3 153.4 398.7 152.5 401.0C151.6 403.3 150.8 403.2 150.6 406.0C150.4 408.8 150.6 414.0 151.5 418.0C152.4 422.0 153.9 426.3 156.0 430.0C158.1 433.7 160.3 437.2 164.0 440.0C167.7 442.8 172.8 444.5 178.0 446.5C183.2 448.5 189.5 449.8 195.0 452.0C200.5 454.2 205.8 456.5 211.0 459.5C216.2 462.5 221.2 466.3 226.0 470.0C230.8 473.7 236.4 479.2 239.8 481.5C243.2 483.8 244.5 484.4 246.5 484.0C248.5 483.6 250.5 481.3 252.0 479.0C253.5 476.7 254.6 472.8 255.6 470.0C256.6 467.2 256.6 464.5 258.0 462.0C259.4 459.5 262.2 456.6 264.0 455.0C265.8 453.4 267.6 452.6 269.0 452.3C270.4 452.1 272.1 452.6 272.5 453.5C272.9 454.4 272.4 455.9 271.5 457.5C270.6 459.1 267.9 461.3 267.0 463.0C266.1 464.7 265.3 467.1 266.0 467.5C266.7 467.9 268.0 467.2 271.0 465.5C274.0 463.8 280.0 460.1 284.0 457.0C288.0 453.9 292.3 449.9 295.0 447.0C297.7 444.1 298.9 440.9 300.3 439.3C301.7 437.7 302.6 437.3 303.5 437.3C304.4 437.3 305.6 438.1 305.5 439.5C305.4 440.9 305.1 443.2 303.0 446.0C300.9 448.8 296.8 452.7 293.0 456.0C289.2 459.3 285.1 462.5 280.0 466.0C274.9 469.5 267.0 473.3 262.4 477.2C257.8 481.1 255.3 486.9 252.2 489.5C249.1 492.1 246.8 492.7 243.9 492.6C241.0 492.5 237.9 490.4 235.0 489.0C232.1 487.6 229.2 485.7 226.4 484.3C223.6 482.9 220.6 481.6 218.0 480.5C215.4 479.4 213.9 478.0 211.0 477.8C208.1 477.6 203.5 479.8 200.6 479.4C197.7 479.0 195.3 477.4 193.6 475.5C191.9 473.6 192.6 470.8 190.3 467.8C188.0 464.8 184.5 460.4 180.0 457.5C175.5 454.6 168.4 453.5 163.5 450.4C158.6 447.3 154.1 444.2 150.6 439.1C147.1 434.0 144.7 424.0 142.5 419.7C140.3 415.4 140.5 415.2 137.6 413.2C134.7 411.2 128.9 409.4 125.0 407.5C121.1 405.6 116.5 403.2 114.0 401.5C111.5 399.8 110.3 398.7 110.0 397.5C109.7 396.3 110.8 394.8 112.0 394.5C113.2 394.2 115.0 394.7 117.0 395.5C119.0 396.3 121.7 398.6 124.0 399.5C126.3 400.4 128.3 401.1 131.0 401.0C133.7 400.9 137.3 400.5 140.0 399.0C142.7 397.5 145.3 394.8 147.0 392.0C148.7 389.2 149.9 385.5 150.0 382.0C150.1 378.5 148.9 373.8 147.5 371.0C146.1 368.2 142.8 366.5 141.5 365.0C140.2 363.5 139.3 363.1 139.5 362.0Z" fill="#fff" stroke="#3a3a3a" stroke-width="1.15" stroke-linejoin="round" stroke-linecap="round"/>
<path d="M131 409.5 Q139 409.5 143 412.5 M147.5 422 Q151 436 158 443 M188.8 458.6 L217.6 474.5 M233.6 483.3 Q240 486 246 486.9 M272 469 Q285 461 298 447" fill="none" stroke="#3a3a3a" stroke-width="0.8" stroke-linejoin="round" stroke-linecap="round"/>
<path d="M202.7 475.6 Q205 473.5 211.4 476" fill="none" stroke="#3a3a3a" stroke-width="0.9" stroke-linejoin="round" stroke-linecap="round"/></g>
<line x1="462.7" y1="540.0" x2="462.7" y2="812.0" stroke="#666" stroke-width="0.9" stroke-dasharray="5 3"/>
<line x1="462.7" y1="812.0" x2="462.7" y2="877.0" stroke="#555" stroke-width="0.85"/>
<line x1="208.0" y1="727.0" x2="255.0" y2="701.7" stroke="#555" stroke-width="0.85"/>
<line x1="405.7" y1="843.9" x2="457.7" y2="812.0" stroke="#555" stroke-width="0.85"/>
<line x1="222.5" y1="721.6" x2="294.7" y2="762.6" stroke="#555" stroke-width="0.85"/>
<line x1="327.0" y1="781.0" x2="420.8" y2="834.3" stroke="#555" stroke-width="0.85"/>
<path d="M222.5 721.6L231.8 723.4L228.8 728.7Z" fill="#555"/>
<path d="M420.8 834.3L411.5 832.5L414.5 827.2Z" fill="#555"/>
<text x="314.0" y="776.8" font-size="13" fill="#333" stroke="#333" stroke-width="0.3" text-anchor="middle">7 "</text>
<line x1="323.6" y1="914.0" x2="323.6" y2="954.4" stroke="#555" stroke-width="0.85"/>
<line x1="323.6" y1="947.7" x2="370.7" y2="921.3" stroke="#555" stroke-width="0.85"/>
<line x1="404.0" y1="902.6" x2="462.4" y2="869.8" stroke="#555" stroke-width="0.85"/>
<path d="M323.6 947.7L330.0 940.7L332.9 945.9Z" fill="#555"/>
<path d="M462.4 869.8L456.0 876.8L453.1 871.6Z" fill="#555"/>
<text x="389.0" y="918.8" font-size="13" fill="#333" stroke="#333" stroke-width="0.3" text-anchor="middle">4.5 "</text>
<rect x="656" y="801" width="88.6" height="145" fill="#4a3826"/>
<g transform="translate(650 795) scale(0.171821)">
<path d="M178.0 157.0C196.0 152.0 272.3 147.8 299.0 147.0C325.7 146.2 387.1 149.3 407.0 150.0C426.9 150.7 459.7 151.6 470.0 153.0C480.3 154.4 492.7 158.3 495.0 162.0C497.3 165.7 495.5 180.1 490.0 185.0C484.5 189.9 455.4 199.4 448.0 204.0C440.6 208.6 432.6 221.2 427.0 224.0C421.4 226.8 403.9 223.6 400.0 228.0C396.1 232.4 380.6 258.5 394.0 262.0C407.4 265.5 501.7 255.7 515.0 258.0C528.3 260.3 509.8 278.3 508.0 282.0C506.2 285.7 500.6 273.9 500.0 290.0C499.4 306.1 498.9 396.4 503.0 420.0C507.1 443.6 532.2 478.0 535.0 492.0C537.8 506.0 530.9 530.7 527.0 540.0C523.1 549.3 505.5 549.5 502.0 572.0C498.5 594.5 494.2 707.9 497.0 733.0C499.8 758.1 522.4 775.0 526.0 787.0C529.6 799.0 532.2 829.1 528.0 836.0C523.8 842.9 508.9 845.0 490.0 846.0C471.1 847.0 404.0 846.8 366.0 845.0C328.0 843.2 198.5 828.7 164.0 831.0C129.5 833.3 84.0 861.9 70.0 865.0C56.0 868.1 44.0 864.0 44.0 858.0C44.0 852.0 61.5 827.3 70.0 814.0C78.5 800.7 108.4 753.5 117.0 744.0C125.6 734.5 138.5 732.3 144.0 733.0C149.5 733.7 153.7 746.6 164.0 750.0C174.3 753.4 208.9 759.3 232.0 762.0C255.1 764.7 354.2 775.9 362.0 773.0C369.8 770.1 314.2 744.4 299.0 737.0C283.8 729.6 247.8 714.0 232.0 710.0C216.2 706.0 179.8 707.3 164.0 703.0C148.2 698.7 107.5 681.5 97.0 673.0C86.5 664.5 76.8 656.0 74.0 630.0C71.2 604.0 71.4 483.8 73.0 450.0C74.6 416.2 82.8 364.5 88.0 340.0C93.2 315.5 111.3 257.5 118.0 240.0C124.7 222.5 138.0 199.7 145.0 190.0C152.0 180.3 160.0 162.0 178.0 157.0Z" fill="#fcfcfa"/>
<path d="M302 204 L350 196 L363 224 L400 228 L407 272 L394 292 L319 400 L313 285 Z" fill="#4a3826"/>
<path d="M208 366 L252 356 L289 494 L198 471 Z" fill="#4a3826"/>
<path d="M421 299 L424 467 L360 467 Z" fill="#4a3826"/>
<path d="M360 602 L414 575 L407 640 Z" fill="#4a3826"/>
<path d="M425 290 L430 720" stroke="#4a3826" stroke-width="6" fill="none"/>
<path d="M446 292 L448 725 M468 292 L470 728 M488 292 L490 722" stroke="#4a3826" stroke-width="7" fill="none"/>
<path d="M394 262 L515 258 L508 282 L434 286 Z" fill="#fcfcfa"/>
<clipPath id="wc"><rect x="35" y="40" width="460" height="120"/></clipPath><g clip-path="url(#wc)"><path d="M20 72 q22 -16 44 0 t44 0 q22 -16 44 0 t44 0 q22 -16 44 0 t44 0 q22 -16 44 0 t44 0 q22 -16 44 0 t44 0 q22 -16 44 0 t44 0 q22 -16 44 0 t44 0 q22 -16 44 0 t44 0" stroke="#fcfcfa" stroke-width="10" fill="none"/><path d="M20 97 q22 -16 44 0 t44 0 q22 -16 44 0 t44 0 q22 -16 44 0 t44 0 q22 -16 44 0 t44 0 q22 -16 44 0 t44 0 q22 -16 44 0 t44 0 q22 -16 44 0 t44 0 q22 -16 44 0 t44 0" stroke="#fcfcfa" stroke-width="10" fill="none"/><path d="M20 122 q22 -16 44 0 t44 0 q22 -16 44 0 t44 0 q22 -16 44 0 t44 0 q22 -16 44 0 t44 0 q22 -16 44 0 t44 0 q22 -16 44 0 t44 0 q22 -16 44 0 t44 0 q22 -16 44 0 t44 0" stroke="#fcfcfa" stroke-width="10" fill="none"/><path d="M20 147 q22 -16 44 0 t44 0 q22 -16 44 0 t44 0 q22 -16 44 0 t44 0 q22 -16 44 0 t44 0 q22 -16 44 0 t44 0 q22 -16 44 0 t44 0 q22 -16 44 0 t44 0 q22 -16 44 0 t44 0" stroke="#fcfcfa" stroke-width="10" fill="none"/></g>
</g>
<text x="700.3" y="957.8" font-size="11.5" fill="#5e5046" text-anchor="middle" style="font-family:'Liberation Serif',serif" textLength="88" lengthAdjust="spacingAndGlyphs">WATER CREATION</text>
</svg>
</body></html>
